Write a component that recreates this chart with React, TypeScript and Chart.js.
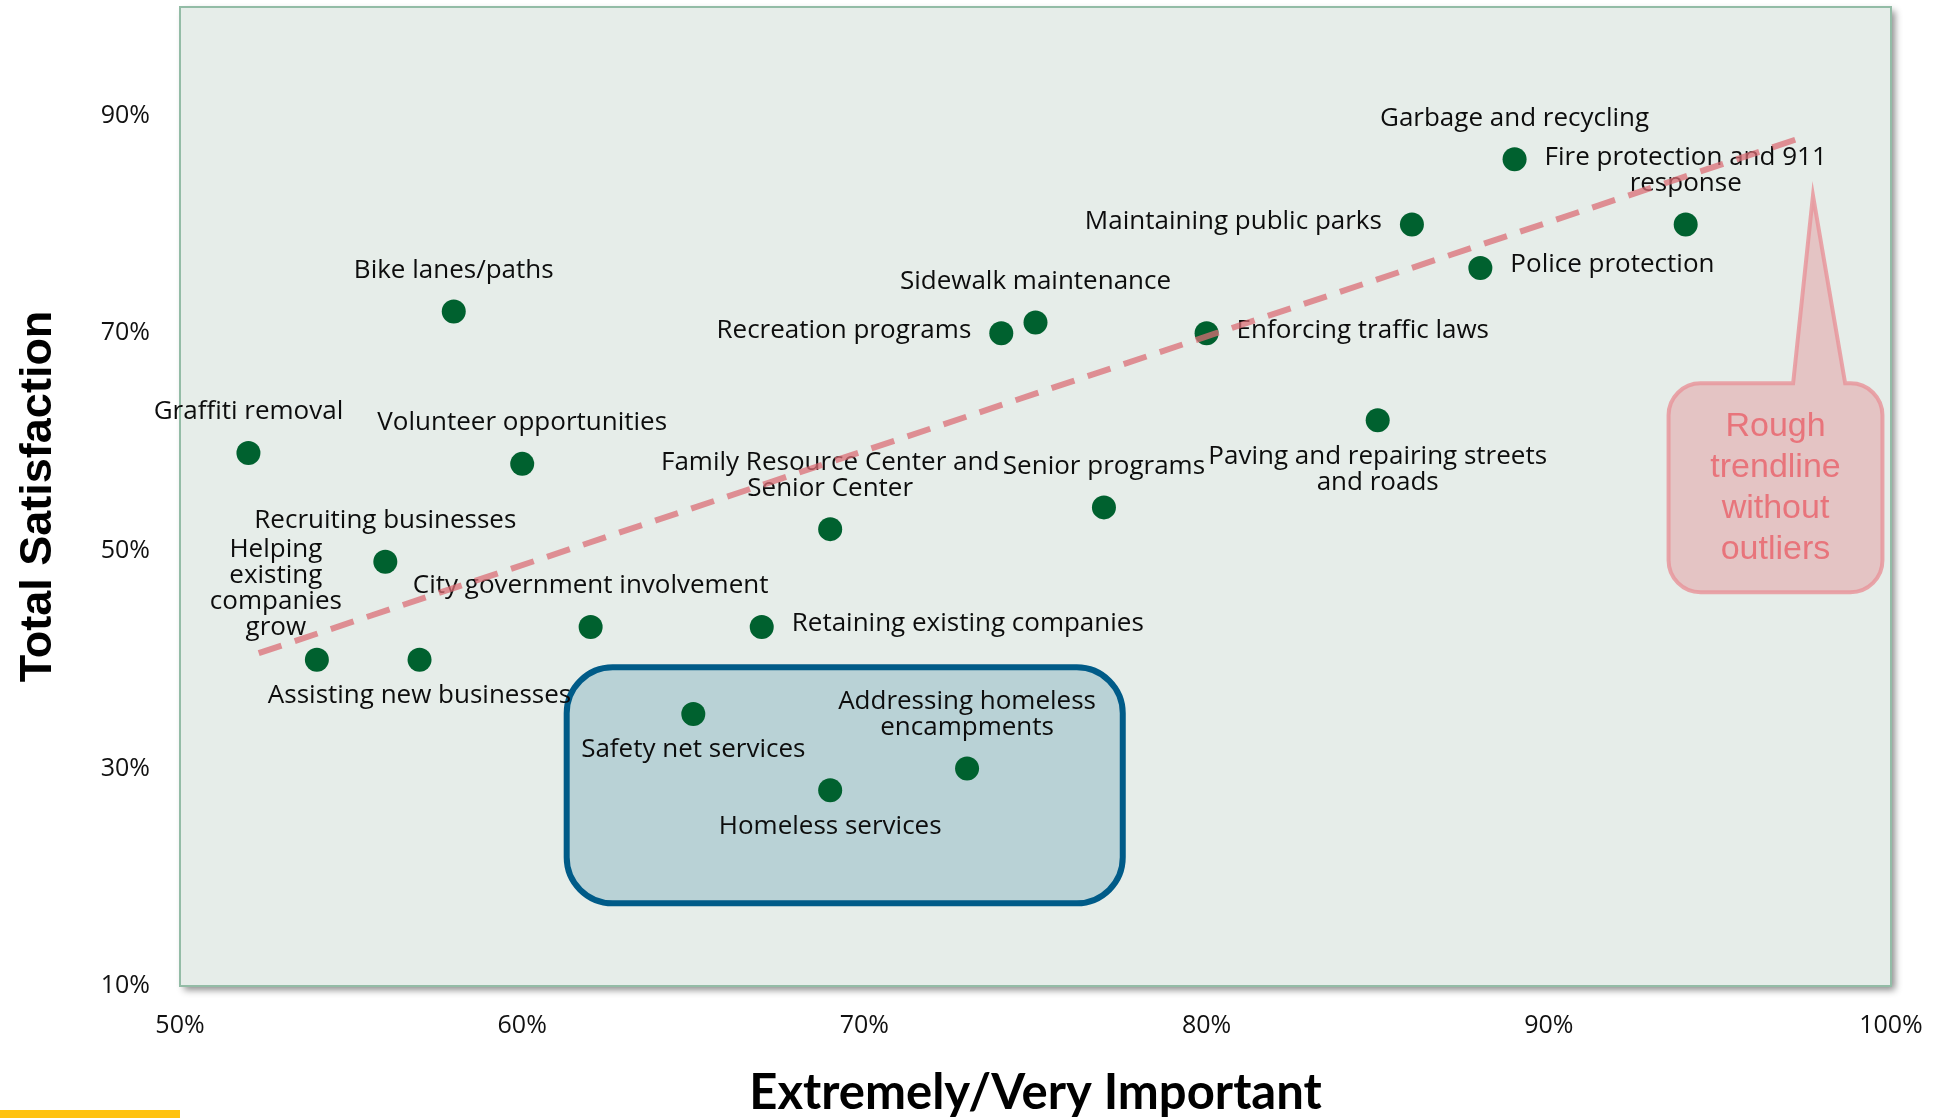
import React, { useEffect, useRef } from 'react';
import { Chart, registerables } from 'chart.js';

Chart.register(...registerables);

// ---------- data ----------
const serviceNames: string[] = [
  'Garbage and recycling',
  'Fire protection and 911\nresponse',
  'Maintaining public parks',
  'Police protection',
  'Enforcing traffic laws',
  'Sidewalk maintenance',
  'Recreation programs',
  'Paving and repairing streets\nand roads',
  'Bike lanes/paths',
  'Graffiti removal',
  'Volunteer opportunities',
  'Family Resource Center and\nSenior Center',
  'Senior programs',
  'Recruiting businesses',
  'Helping\nexisting\ncompanies\ngrow',
  'City government involvement',
  'Retaining existing companies',
  'Assisting new businesses',
  'Safety net services',
  'Homeless services',
  'Addressing homeless\nencampments',
];
const importancePct: number[] = [89, 94, 86, 88, 80, 75, 74, 85, 58, 52, 60, 69, 77, 56, 54, 62, 67, 57, 65, 69, 73];
const satisfactionPct: number[] = [86, 80, 80, 76, 70, 71, 70, 62, 72, 59, 58, 52, 54, 49, 40, 43, 43, 40, 35, 28, 30];
const labelPlacement: string[] = [
  'above', 'above', 'left', 'right', 'right', 'above', 'left', 'below', 'above', 'above', 'above',
  'above', 'above', 'above', 'aboveLeft', 'above', 'right', 'below', 'below', 'below', 'above',
];
const xTickValues: number[] = [50, 60, 70, 80, 90, 100];
const yTickValues: number[] = [10, 30, 50, 70, 90];
const trendImportance: number[] = [52.3, 97.3];
const trendSatisfaction: number[] = [40.6, 87.9];
const xAxisTitle = 'Extremely/Very Important';
const yAxisTitle = 'Total Satisfaction';
const calloutLines: string[] = ['Rough', 'trendline', 'without', 'outliers'];
// annotation regions in data space
const homelessBox = { x0: 61.3, x1: 77.55, y0: 17.6, y1: 39.3 };
const calloutBox = { x0: 93.5, x1: 99.75, y0: 46.2, y1: 65.4, tipX: 97.72, tipY: 82.66, baseX0: 97.14, baseX1: 98.66 };

function roundRectPath(ctx: any, x: number, y: number, w: number, h: number, r: number) {
  ctx.beginPath();
  ctx.moveTo(x + r, y);
  ctx.arcTo(x + w, y, x + w, y + h, r);
  ctx.arcTo(x + w, y + h, x, y + h, r);
  ctx.arcTo(x, y + h, x, y, r);
  ctx.arcTo(x, y, x + w, y, r);
  ctx.closePath();
}

const overlayPlugin = {
  id: 'overlay',
  beforeDraw(chart: any) {
    const { ctx, chartArea: a } = chart;
    ctx.save();
    ctx.shadowColor = 'rgba(0,0,0,0.45)';
    ctx.shadowBlur = 7;
    ctx.shadowOffsetX = 4;
    ctx.shadowOffsetY = 4;
    ctx.fillStyle = '#E6EDE9';
    ctx.fillRect(a.left, a.top, a.width, a.height);
    ctx.restore();
    ctx.save();
    ctx.strokeStyle = '#93BCA6';
    ctx.lineWidth = 2;
    ctx.strokeRect(a.left, a.top, a.width, a.height);
    ctx.restore();
  },
  beforeDatasetDraw(chart: any, args: any) {
    if (args.index !== 0) return;
    const { ctx } = chart;
    const xs = chart.scales.x, ys = chart.scales.y;
    const L = xs.getPixelForValue(homelessBox.x0), R = xs.getPixelForValue(homelessBox.x1);
    const T = ys.getPixelForValue(homelessBox.y1), B = ys.getPixelForValue(homelessBox.y0);
    ctx.save();
    roundRectPath(ctx, L, T, R - L, B - T, 46);
    ctx.fillStyle = '#B9D2D6';
    ctx.fill();
    ctx.lineWidth = 6;
    ctx.strokeStyle = '#005B88';
    ctx.stroke();
    ctx.restore();
  },
  afterDatasetDraw(chart: any, args: any) {
    if (args.index !== 0) return;
    const { ctx } = chart;
    const meta = chart.getDatasetMeta(0);
    ctx.save();
    ctx.font = '26px "Open Sans"';
    ctx.fillStyle = '#0d0d0d';
    ctx.textBaseline = 'middle';
    const lh = 26;
    meta.data.forEach((pt: any, i: number) => {
      const lines = serviceNames[i].split('\n');
      const place = labelPlacement[i];
      const px = pt.x, py = pt.y;
      if (place === 'above') {
        ctx.textAlign = 'center';
        lines.forEach((ln: string, k: number) => {
          ctx.fillText(ln, px, py - 41 - (lines.length - 1 - k) * lh);
        });
      } else if (place === 'below') {
        ctx.textAlign = 'center';
        lines.forEach((ln: string, k: number) => {
          ctx.fillText(ln, px, py + 36 + k * lh);
        });
      } else if (place === 'aboveLeft') {
        ctx.textAlign = 'center';
        lines.forEach((ln: string, k: number) => {
          ctx.fillText(ln, px - 41, py - 32 - (lines.length - 1 - k) * lh);
        });
      } else if (place === 'left') {
        ctx.textAlign = 'right';
        ctx.fillText(lines[0], px - 30, py - 3);
      } else {
        ctx.textAlign = 'left';
        ctx.fillText(lines[0], px + 30, py - 3);
      }
    });
    ctx.restore();
  },
  afterDatasetsDraw(chart: any) {
    const { ctx } = chart;
    const xs = chart.scales.x, ys = chart.scales.y;
    const L = xs.getPixelForValue(calloutBox.x0), R = xs.getPixelForValue(calloutBox.x1);
    const T = ys.getPixelForValue(calloutBox.y1), B = ys.getPixelForValue(calloutBox.y0);
    const tx = xs.getPixelForValue(calloutBox.tipX), ty = ys.getPixelForValue(calloutBox.tipY);
    const b0 = xs.getPixelForValue(calloutBox.baseX0), b1 = xs.getPixelForValue(calloutBox.baseX1);
    const r = 32;
    ctx.save();
    ctx.beginPath();
    ctx.moveTo(L + r, T);
    ctx.lineTo(b0, T);
    ctx.lineTo(tx, ty);
    ctx.lineTo(b1, T);
    ctx.arcTo(R, T, R, B, r);
    ctx.arcTo(R, B, L, B, r);
    ctx.arcTo(L, B, L, T, r);
    ctx.arcTo(L, T, R, T, r);
    ctx.closePath();
    ctx.fillStyle = '#E4C4C4';
    ctx.fill();
    ctx.lineWidth = 4;
    ctx.strokeStyle = 'rgba(232,150,156,0.85)';
    ctx.stroke();
    ctx.fillStyle = '#E8747B';
    ctx.font = '34px "Liberation Sans"';
    ctx.textAlign = 'center';
    ctx.textBaseline = 'middle';
    const cx = (L + R) / 2, cy = (T + B) / 2;
    const step = 41;
    calloutLines.forEach((ln, k) => {
      ctx.fillText(ln, cx, cy + (k - (calloutLines.length - 1) / 2) * step);
    });
    ctx.restore();
  },
};

export default function App() {
  const canvasRef = useRef<HTMLCanvasElement | null>(null);

  useEffect(() => {
    const canvas = canvasRef.current;
    if (!canvas) return;
    const points = importancePct.map((x, i) => ({ x, y: satisfactionPct[i] }));
    const trend = trendImportance.map((x, i) => ({ x, y: trendSatisfaction[i] }));
    const chart = new Chart(canvas, {
      type: 'scatter',
      data: {
        datasets: [
          {
            label: 'Services',
            data: points,
            pointRadius: 12,
            pointHoverRadius: 12,
            backgroundColor: '#00612F',
            borderWidth: 0,
            order: 1,
          } as any,
          {
            type: 'line',
            label: 'Trend',
            data: trend,
            borderColor: 'rgba(219,110,117,0.75)',
            borderWidth: 6,
            borderDash: [24, 14],
            pointRadius: 0,
            fill: false,
            showLine: true,
            order: 0,
          } as any,
        ],
      },
      options: {
        responsive: false,
        animation: false,
        devicePixelRatio: 1,
        layout: { autoPadding: false, padding: { left: 0, top: 7, right: 53, bottom: 0 } },
        plugins: { legend: { display: false }, tooltip: { enabled: false } },
        scales: {
          x: {
            type: 'linear',
            min: 50,
            max: 100,
            afterBuildTicks: (s: any) => { s.ticks = xTickValues.map((v) => ({ value: v })); },
            afterFit: (s: any) => { s.height = 132; s.paddingLeft = 0; s.paddingRight = 0; },
            grid: { display: false, drawTicks: false },
            border: { display: false },
            ticks: {
              callback: (v: any) => v + '%',
              font: { family: 'Open Sans', size: 25 },
              color: '#111111',
              padding: 25,
              maxRotation: 0,
              autoSkip: false,
            },
            title: {
              display: true,
              text: xAxisTitle,
              color: '#000000',
              font: { family: 'Lato', size: 49, weight: 'bold', lineHeight: 1 },
              padding: { top: 0, bottom: 0 },
            },
          },
          y: {
            type: 'linear',
            min: 10,
            max: 100,
            afterBuildTicks: (s: any) => { s.ticks = yTickValues.map((v) => ({ value: v })); },
            afterFit: (s: any) => { s.width = 180; s.paddingTop = 0; s.paddingBottom = 0; },
            grid: { display: false, drawTicks: false },
            border: { display: false },
            ticks: {
              callback: (v: any) => v + '%',
              font: { family: 'Open Sans', size: 25 },
              color: '#111111',
              padding: 30,
            },
            title: {
              display: true,
              text: yAxisTitle,
              color: '#000000',
              font: { family: 'Liberation Sans', size: 45, weight: 'bold' },
              padding: { top: 12, bottom: 0 },
            },
          },
        },
      } as any,
      plugins: [overlayPlugin as any],
    });
    return () => chart.destroy();
  }, []);

  return (
    <div style={{ position: 'absolute', left: 0, top: 0, width: 1944, height: 1118, background: '#ffffff', overflow: 'hidden' }}>
      <canvas ref={canvasRef} width={1944} height={1118} style={{ display: 'block', width: 1944, height: 1118 }} />
      <div style={{ position: 'absolute', left: 0, top: 1110, width: 180, height: 8, background: '#FFC20E' }} />
    </div>
  );
}
